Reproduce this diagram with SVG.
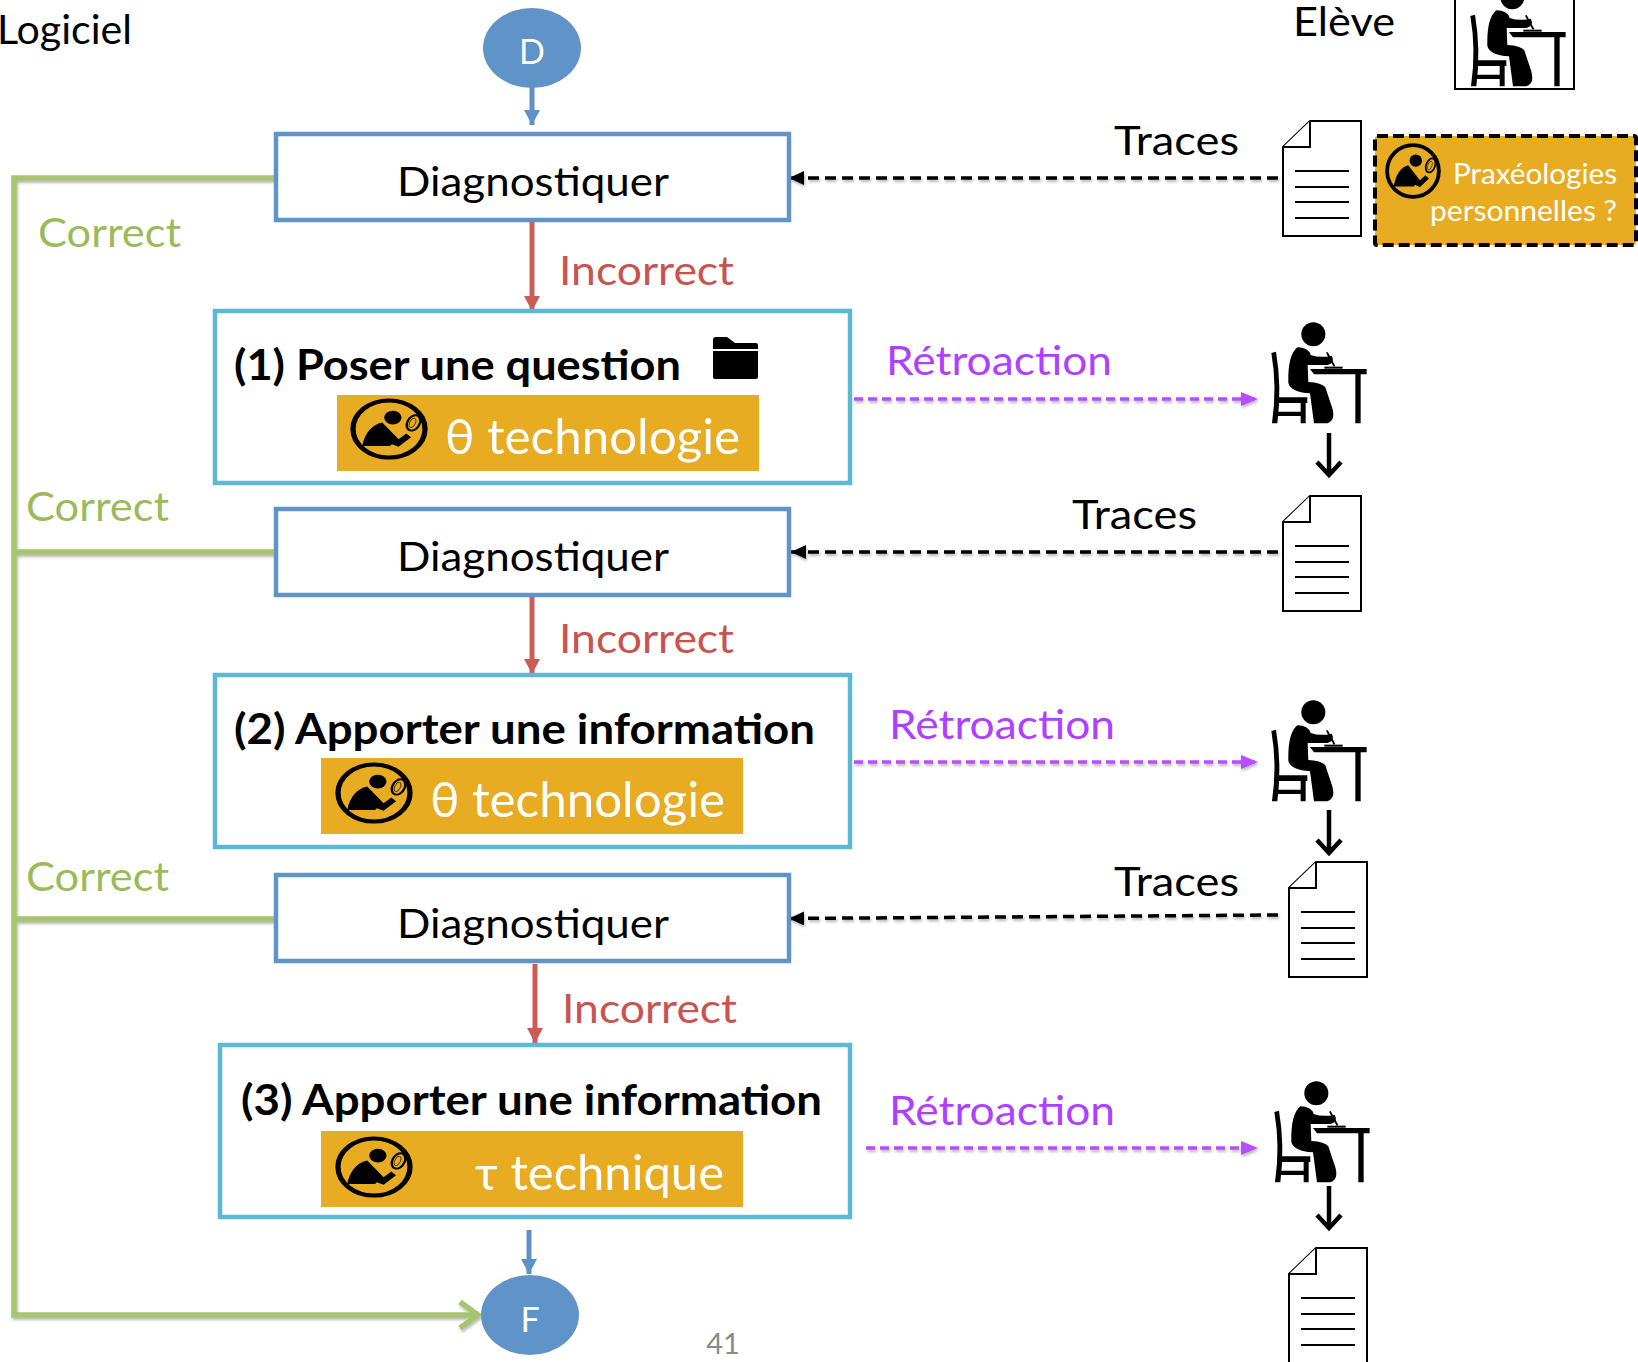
<svg xmlns="http://www.w3.org/2000/svg" xmlns:xlink="http://www.w3.org/1999/xlink" width="1638" height="1362" viewBox="0 0 1638 1362">
<style>
text{font-family:"Lato","Carlito","Noto Sans",sans-serif;font-size:41px;fill:#000}
.b{font-weight:700;font-size:42px}
.diag{fill:#fff;stroke:#6093C7;stroke-width:4.5}
.act{fill:#fff;stroke:#5CB8D3;stroke-width:4.5}
.or{fill:#E8AC22}
.w{fill:#fff}
.big{fill:#fff;font-size:48px}
.cor{fill:#9BBB59}
.inc{fill:#C9534F}
.ret{fill:#B040FF}
.blue{stroke:#5F90C8;stroke-width:5;fill:none}
.red{stroke:#CB5C57;stroke-width:5;fill:none}
.green{stroke:#A9C46F;stroke-width:5.5;fill:none}
.dash{stroke:#000;stroke-width:3.5;stroke-dasharray:11 6;fill:none}
.pur{stroke:#B84DFF;stroke-width:3.5;stroke-dasharray:9 5;fill:none}
.blk{stroke:#000;stroke-width:4.5;fill:none}
.doc{fill:#fff;stroke:#000;stroke-width:2}
</style>
<defs>
<filter id="sh" x="-5%" y="-5%" width="110%" height="110%" filterUnits="objectBoundingBox"><feDropShadow dx="1" dy="2" stdDeviation="1.5" flood-color="#000" flood-opacity=".3"/></filter>
<marker id="mB" markerUnits="userSpaceOnUse" markerWidth="16" markerHeight="18" refX="15" refY="8" orient="auto"><path d="M0 0L15 8L0 16Z" fill="#5F90C8"/></marker>
<marker id="mR" markerUnits="userSpaceOnUse" markerWidth="16" markerHeight="18" refX="15" refY="8" orient="auto"><path d="M0 0L15 8L0 16Z" fill="#CB5C57"/></marker>
<marker id="mK" markerUnits="userSpaceOnUse" markerWidth="16" markerHeight="16" refX="15" refY="7" orient="auto"><path d="M0 0L15 7L0 14Z" fill="#000"/></marker>
<marker id="mP" markerUnits="userSpaceOnUse" markerWidth="18" markerHeight="16" refX="17" refY="7" orient="auto"><path d="M0 0L17 7L0 14Z" fill="#B84DFF"/></marker>
<g id="student" fill="#000">
<g transform="scale(.3333)">
<circle cx="220" cy="73" r="36"/>
<path d="M172 112Q143 135 145 218Q150 245 210 250L222 340H262Q292 330 272 280L256 232Q245 218 205 216L203 165H262Q287 158 275 137Q240 145 212 135Q205 112 172 112Z"/>
<path d="M210 177H380V193H362V340H346V193H222Z"/>
<path d="M253 170H308V176H253Z"/>
<path d="M94 129L108 125Q126 230 112 340H96Q112 230 94 129Z"/>
<path d="M112 262H202V279H197V340H182V318H112V305H182V279H112Z"/>
<path d="M258 128L263 126L286 168L281 170Z"/>
</g>
</g>
<g id="seeker">
<circle r="75" fill="none" stroke="#000" stroke-width="11"/>
<circle cx="8" cy="-30" r="18" fill="#000"/>
<path d="M-56 45Q-47 -8 -14 -17L20 27L36 12L46 22L20 47L6 40L2 45Z" fill="#000"/>
<ellipse cx="51" cy="-16" rx="13" ry="21" transform="rotate(20 51 -16)" fill="#E8AC22" stroke="#000" stroke-width="5"/>
<ellipse cx="49" cy="-16" rx="6" ry="13" transform="rotate(20 49 -16)" fill="none" stroke="#000" stroke-width="1.5"/>
</g>
<g id="docu">
<path class="doc" d="M27 0H78V115H0V26Z"/>
<path class="doc" d="M27 0V26H0" fill="none"/>
<path d="M12 50H66M12 66H66M12 81H66M12 97H66" stroke="#000" stroke-width="2" fill="none"/>
</g>
</defs>

<g id="connectors">
<path class="blue" d="M532 86V125" marker-end="url(#mB)"/>
<path class="red" d="M532 220V311" marker-end="url(#mR)"/>
<path class="red" d="M532 595V674" marker-end="url(#mR)"/>
<path class="red" d="M535 964V1043" marker-end="url(#mR)"/>
<path class="blue" d="M529 1230V1274" marker-end="url(#mB)"/>
<g filter="url(#sh)">
<path class="green" d="M276 178H14V1315H478"/>
<path class="green" d="M278 552H14"/>
<path class="green" d="M278 919H14"/>
<path class="green" d="M460 1302L478 1315L460 1328"/>
</g>
<g filter="url(#sh)">
<path class="dash" d="M1278 178H789" marker-end="url(#mK)"/>
<path class="dash" d="M1278 552H791" marker-end="url(#mK)"/>
<path class="dash" d="M1278 915L789 918.5" marker-end="url(#mK)"/>
<path class="pur" d="M854 399H1258" marker-end="url(#mP)"/>
<path class="pur" d="M854 762H1258" marker-end="url(#mP)"/>
<path class="pur" d="M866 1148H1258" marker-end="url(#mP)"/>
</g>
<path class="blk" d="M1329 433V474M1317 462L1329 475L1341 462"/>
<path class="blk" d="M1329 810V852M1317 840L1329 853L1341 840"/>
<path class="blk" d="M1329 1186V1227M1317 1215L1329 1228L1341 1215"/>
</g>

<g id="logiciel"><text x="-3" y="44" textLength="135" lengthAdjust="spacingAndGlyphs">Logiciel</text></g>

<g id="start"><ellipse cx="532" cy="48" rx="49" ry="40" fill="#6093C7"/><text class="w" x="532" y="64" text-anchor="middle" font-size="34" style="font-size:34px">D</text></g>

<g id="eleve">
<text x="1293" y="36" textLength="102" lengthAdjust="spacingAndGlyphs">Elève</text>
<rect x="1455" y="-4" width="119" height="93" fill="#fff" stroke="#000" stroke-width="2"/>
<use href="#student" xlink:href="#student" x="1439" y="-27"/>
</g>

<g id="doc1"><use href="#docu" xlink:href="#docu" x="1283" y="121"/><text x="1114" y="155" textLength="125" lengthAdjust="spacingAndGlyphs">Traces</text></g>

<g id="praxeologies">
<rect x="1375" y="136" width="261" height="109" rx="2" class="or" stroke="#000" stroke-width="4" stroke-dasharray="11 5"/>
<use href="#seeker" xlink:href="#seeker" transform="translate(1413 171) scale(.345)"/>
<text class="w" style="font-size:29px" x="1453" y="184" textLength="164" lengthAdjust="spacingAndGlyphs">Praxéologies</text>
<text class="w" style="font-size:29px" x="1430" y="221" textLength="187" lengthAdjust="spacingAndGlyphs">personnelles ?</text>
</g>

<g id="diag1"><rect class="diag" x="276" y="134" width="513" height="86"/><text x="397" y="196" textLength="272" lengthAdjust="spacingAndGlyphs">Diagnostiquer</text></g>
<g id="lab1">
<text class="cor" x="38" y="247" textLength="143" lengthAdjust="spacingAndGlyphs">Correct</text>
<text class="inc" x="559" y="285" textLength="175" lengthAdjust="spacingAndGlyphs">Incorrect</text>
</g>

<g id="action1">
<rect class="act" x="215" y="311" width="635" height="172"/>
<text class="b" x="234" y="380" textLength="447" lengthAdjust="spacingAndGlyphs">(1) Poser une question</text>
<path id="folder" d="M713 340Q713 337 716 337H727L735 343H756Q758 343 758 345V349H713ZM713 351H758V377Q758 379 756 379H715Q713 379 713 377Z" fill="#000"/>
<rect class="or" x="337" y="395" width="422" height="76"/>
<use href="#seeker" xlink:href="#seeker" transform="translate(389 429) scale(.48 .38)"/>
<text class="big" x="445" y="454" textLength="295" lengthAdjust="spacingAndGlyphs">θ technologie</text>
</g>
<g id="ret1"><text class="ret" x="886" y="375" textLength="226" lengthAdjust="spacingAndGlyphs">Rétroaction</text><use href="#student" xlink:href="#student" x="1240" y="310"/></g>

<g id="doc2"><use href="#docu" xlink:href="#docu" x="1283" y="496"/><text x="1072" y="529" textLength="125" lengthAdjust="spacingAndGlyphs">Traces</text></g>
<g id="diag2"><rect class="diag" x="276" y="509" width="513" height="86"/><text x="397" y="571" textLength="272" lengthAdjust="spacingAndGlyphs">Diagnostiquer</text></g>
<g id="lab2">
<text class="cor" x="26" y="521" textLength="143" lengthAdjust="spacingAndGlyphs">Correct</text>
<text class="inc" x="559" y="653" textLength="175" lengthAdjust="spacingAndGlyphs">Incorrect</text>
</g>

<g id="action2">
<rect class="act" x="215" y="675" width="635" height="172"/>
<text class="b" x="234" y="744" textLength="581" lengthAdjust="spacingAndGlyphs">(2) Apporter une information</text>
<rect class="or" x="321" y="758" width="422" height="76"/>
<use href="#seeker" xlink:href="#seeker" transform="translate(374 793) scale(.48 .38)"/>
<text class="big" x="430" y="817" textLength="295" lengthAdjust="spacingAndGlyphs">θ technologie</text>
</g>
<g id="ret2"><text class="ret" x="889" y="739" textLength="226" lengthAdjust="spacingAndGlyphs">Rétroaction</text><use href="#student" xlink:href="#student" x="1240" y="688"/></g>

<g id="doc3"><use href="#docu" xlink:href="#docu" x="1289" y="862"/><text x="1114" y="896" textLength="125" lengthAdjust="spacingAndGlyphs">Traces</text></g>
<g id="diag3"><rect class="diag" x="276" y="875" width="513" height="86"/><text x="397" y="938" textLength="272" lengthAdjust="spacingAndGlyphs">Diagnostiquer</text></g>
<g id="lab3">
<text class="cor" x="26" y="891" textLength="143" lengthAdjust="spacingAndGlyphs">Correct</text>
<text class="inc" x="562" y="1023" textLength="175" lengthAdjust="spacingAndGlyphs">Incorrect</text>
</g>

<g id="action3">
<rect class="act" x="220" y="1045" width="630" height="172"/>
<text class="b" x="241" y="1115" textLength="581" lengthAdjust="spacingAndGlyphs">(3) Apporter une information</text>
<rect class="or" x="321" y="1131" width="422" height="76"/>
<use href="#seeker" xlink:href="#seeker" transform="translate(374 1167) scale(.48 .38)"/>
<text class="big" x="475" y="1190" textLength="249" lengthAdjust="spacingAndGlyphs">τ technique</text>
</g>
<g id="ret3"><text class="ret" x="889" y="1125" textLength="226" lengthAdjust="spacingAndGlyphs">Rétroaction</text><use href="#student" xlink:href="#student" x="1243" y="1069"/></g>
<g id="doc4"><use href="#docu" xlink:href="#docu" x="1289" y="1248"/></g>

<g id="end"><ellipse cx="530" cy="1315" rx="49" ry="40" fill="#6093C7"/><text class="w" x="530" y="1332" text-anchor="middle" style="font-size:34px">F</text></g>
<g id="page"><text x="723" y="1354" text-anchor="middle" style="font-size:29px;fill:#8a8a8a">41</text></g>
</svg>
